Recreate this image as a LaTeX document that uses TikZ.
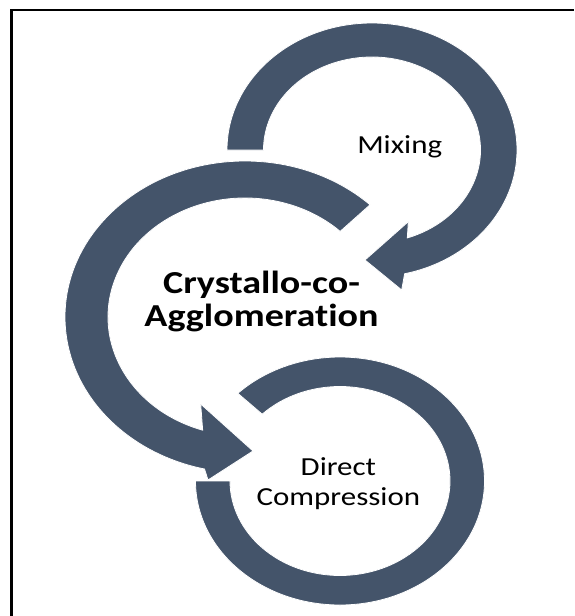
\documentclass[tikz,border=0pt]{standalone}
\usepackage{fontspec}
\newfontfamily\labelfont{Carlito}[FakeStretch=1.19, Ligatures=NoCommon]
\usetikzlibrary{calc}
\definecolor{ringfill}{HTML}{44546A}

\begin{document}
\begin{tikzpicture}[x=1pt,y=-1pt,
  ring/.style={fill=ringfill, draw=white, line width=0.8pt},
  plain label/.style={font=\labelfont\fontsize{26}{29.5}\selectfont, text=black, align=center, inner sep=0pt},
  bold label/.style={font=\labelfont\bfseries\fontsize{32}{33.4}\selectfont, text=black, align=center, inner sep=0pt}
]
\useasboundingbox (0,0) rectangle (574,616);
\fill[white] (0,0) rectangle (574,616);

% frame (top and left edges)
\draw[line width=2.6pt] (11.3,616) -- (11.3,10) -- (574,10);

% ring centres
\coordinate (mixc) at (372,150);
\coordinate (agc) at (245,317);
\coordinate (dcc) at (340,481);

% lower ring: Direct Compression
\fill[ring] ($(dcc)+(180:144.5 and 124)$)
  arc[start angle=180, end angle=-135, x radius=144.5, y radius=124]
  -- ($(dcc)+(-135:110 and 94.5)$)
  arc[start angle=-135, end angle=180, x radius=110, y radius=94.5] -- cycle;

% middle ring with arrow into the lower ring
\fill[ring] ($(agc)+(314:180 and 156)$)
  arc[start angle=314, end angle=103, x radius=180, y radius=156]
  -- (208,480) -- (253,451) -- (200.7,404)
  -- ($(agc)+(108:137 and 119)$)
  arc[start angle=108, end angle=314, x radius=137, y radius=119] -- cycle;

% upper ring with arrow into the middle ring
\fill[ring] ($(mixc)+(180:145 and 127)$)
  arc[start angle=180, end angle=437, x radius=145, y radius=127]
  -- (401.7,290) -- (365,260) -- (408.3,221.7)
  -- ($(mixc)+(431:108.5 and 93)$)
  arc[start angle=431, end angle=180, x radius=108.5, y radius=93] -- cycle;

% labels (base anchor sits on the last line)
\node[plain label, anchor=base] (mix) at (399.7,153) {Mixing};
\node[bold label, anchor=base] (cca) at (261.5,326.7) {Crystallo-co-\\Agglomeration};
\node[plain label, anchor=base] (dc) at (338.4,505) {Direct\\Compression};
\end{tikzpicture}
\end{document}
